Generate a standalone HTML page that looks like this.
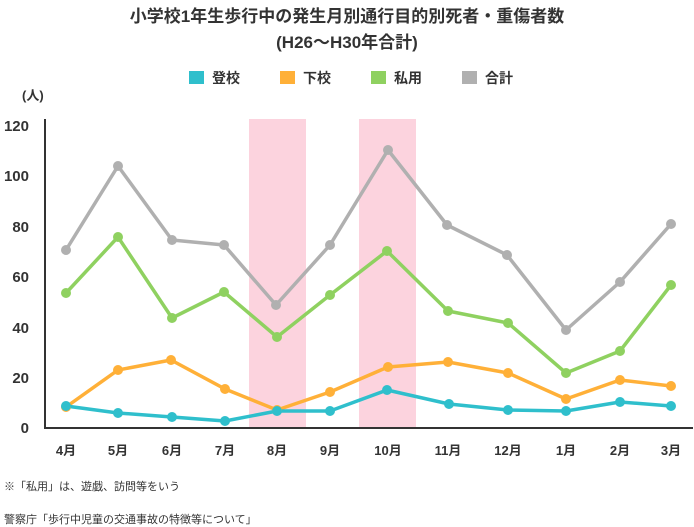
<!DOCTYPE html>
<html><head><meta charset="utf-8"><style>
body{margin:0;background:#fff;}
svg{display:block;font-family:"Liberation Sans","Noto Sans CJK JP",sans-serif;}
</style></head><body>
<svg width="694" height="527" viewBox="0 0 694 527">
<text x="347" y="22" text-anchor="middle" font-size="17" font-weight="bold" fill="#333">小学校1年生歩行中の発生月別通行目的別死者・重傷者数</text>
<text x="347" y="48" text-anchor="middle" font-size="17" font-weight="bold" fill="#333">(H26～H30年合計)</text>
<g font-size="14" font-weight="bold" fill="#333">
<rect x="189" y="71" width="15" height="13" fill="#2fbfcc"/><text x="212" y="83">登校</text>
<rect x="280" y="71" width="15" height="13" fill="#ffb038"/><text x="303" y="83">下校</text>
<rect x="371" y="71" width="15" height="13" fill="#8fd160"/><text x="394" y="83">私用</text>
<rect x="462" y="71" width="15" height="13" fill="#b0b0b0"/><text x="485" y="83">合計</text>
</g>
<text x="22" y="100" font-size="13" font-weight="bold" fill="#333">(人)</text>
<rect x="249" y="119" width="57" height="309" fill="#fcd3de"/>
<rect x="359" y="119" width="57" height="309" fill="#fcd3de"/>
<g font-size="15" font-weight="bold" fill="#333" text-anchor="end">
<text x="29" y="131">120</text><text x="29" y="181">100</text><text x="29" y="232">80</text><text x="29" y="282">60</text><text x="29" y="333">40</text><text x="29" y="383">20</text><text x="29" y="433">0</text>
</g>
<polyline points="45,119 45,428 693,428" fill="none" stroke="#333" stroke-width="2"/>
<g font-size="13" font-weight="bold" fill="#333" text-anchor="middle">
<text x="66" y="455">4月</text><text x="118" y="455">5月</text><text x="172" y="455">6月</text><text x="225" y="455">7月</text><text x="277" y="455">8月</text><text x="330" y="455">9月</text><text x="388" y="455">10月</text><text x="448" y="455">11月</text><text x="508" y="455">12月</text><text x="566" y="455">1月</text><text x="620" y="455">2月</text><text x="671" y="455">3月</text>
</g>
<g fill="none" stroke-width="3.5" stroke-linejoin="round">
<polyline stroke="#b0b0b0" points="66,250 118,166 172,240 224,245 276,305 330,245 388,150 447,225 507,255 566,330 620,282 671,224"/>
<polyline stroke="#8fd160" points="66,293 118,237 172,318 224,292 277,337 330,295 387,251 448,311 508,323 566,373 620,351 671,285"/>
<polyline stroke="#ffb038" points="66,407 118,370 171,360 225,389 277,410 330,392 388,367 448,362 508,373 566,399 620,380 671,386"/>
<polyline stroke="#2fbfcc" points="66,406 118,413 172,417 225,421 277,411 330,411 387,390 449,404 508,410 566,411 620,402 671,406"/>
</g>
<g fill="#b0b0b0"><circle cx="66" cy="250" r="5"/><circle cx="118" cy="166" r="5"/><circle cx="172" cy="240" r="5"/><circle cx="224" cy="245" r="5"/><circle cx="276" cy="305" r="5"/><circle cx="330" cy="245" r="5"/><circle cx="388" cy="150" r="5"/><circle cx="447" cy="225" r="5"/><circle cx="507" cy="255" r="5"/><circle cx="566" cy="330" r="5"/><circle cx="620" cy="282" r="5"/><circle cx="671" cy="224" r="5"/></g>
<g fill="#8fd160"><circle cx="66" cy="293" r="5"/><circle cx="118" cy="237" r="5"/><circle cx="172" cy="318" r="5"/><circle cx="224" cy="292" r="5"/><circle cx="277" cy="337" r="5"/><circle cx="330" cy="295" r="5"/><circle cx="387" cy="251" r="5"/><circle cx="448" cy="311" r="5"/><circle cx="508" cy="323" r="5"/><circle cx="566" cy="373" r="5"/><circle cx="620" cy="351" r="5"/><circle cx="671" cy="285" r="5"/></g>
<g fill="#ffb038"><circle cx="66" cy="407" r="5"/><circle cx="118" cy="370" r="5"/><circle cx="171" cy="360" r="5"/><circle cx="225" cy="389" r="5"/><circle cx="277" cy="410" r="5"/><circle cx="330" cy="392" r="5"/><circle cx="388" cy="367" r="5"/><circle cx="448" cy="362" r="5"/><circle cx="508" cy="373" r="5"/><circle cx="566" cy="399" r="5"/><circle cx="620" cy="380" r="5"/><circle cx="671" cy="386" r="5"/></g>
<g fill="#2fbfcc"><circle cx="66" cy="406" r="5"/><circle cx="118" cy="413" r="5"/><circle cx="172" cy="417" r="5"/><circle cx="225" cy="421" r="5"/><circle cx="277" cy="411" r="5"/><circle cx="330" cy="411" r="5"/><circle cx="387" cy="390" r="5"/><circle cx="449" cy="404" r="5"/><circle cx="508" cy="410" r="5"/><circle cx="566" cy="411" r="5"/><circle cx="620" cy="402" r="5"/><circle cx="671" cy="406" r="5"/></g>
<text x="4" y="490" font-size="11" fill="#333">※「私用」は、遊戯、訪問等をいう</text>
<text x="4" y="523" font-size="11" fill="#333">警察庁「歩行中児童の交通事故の特徴等について」</text>
</svg>
</body></html>
